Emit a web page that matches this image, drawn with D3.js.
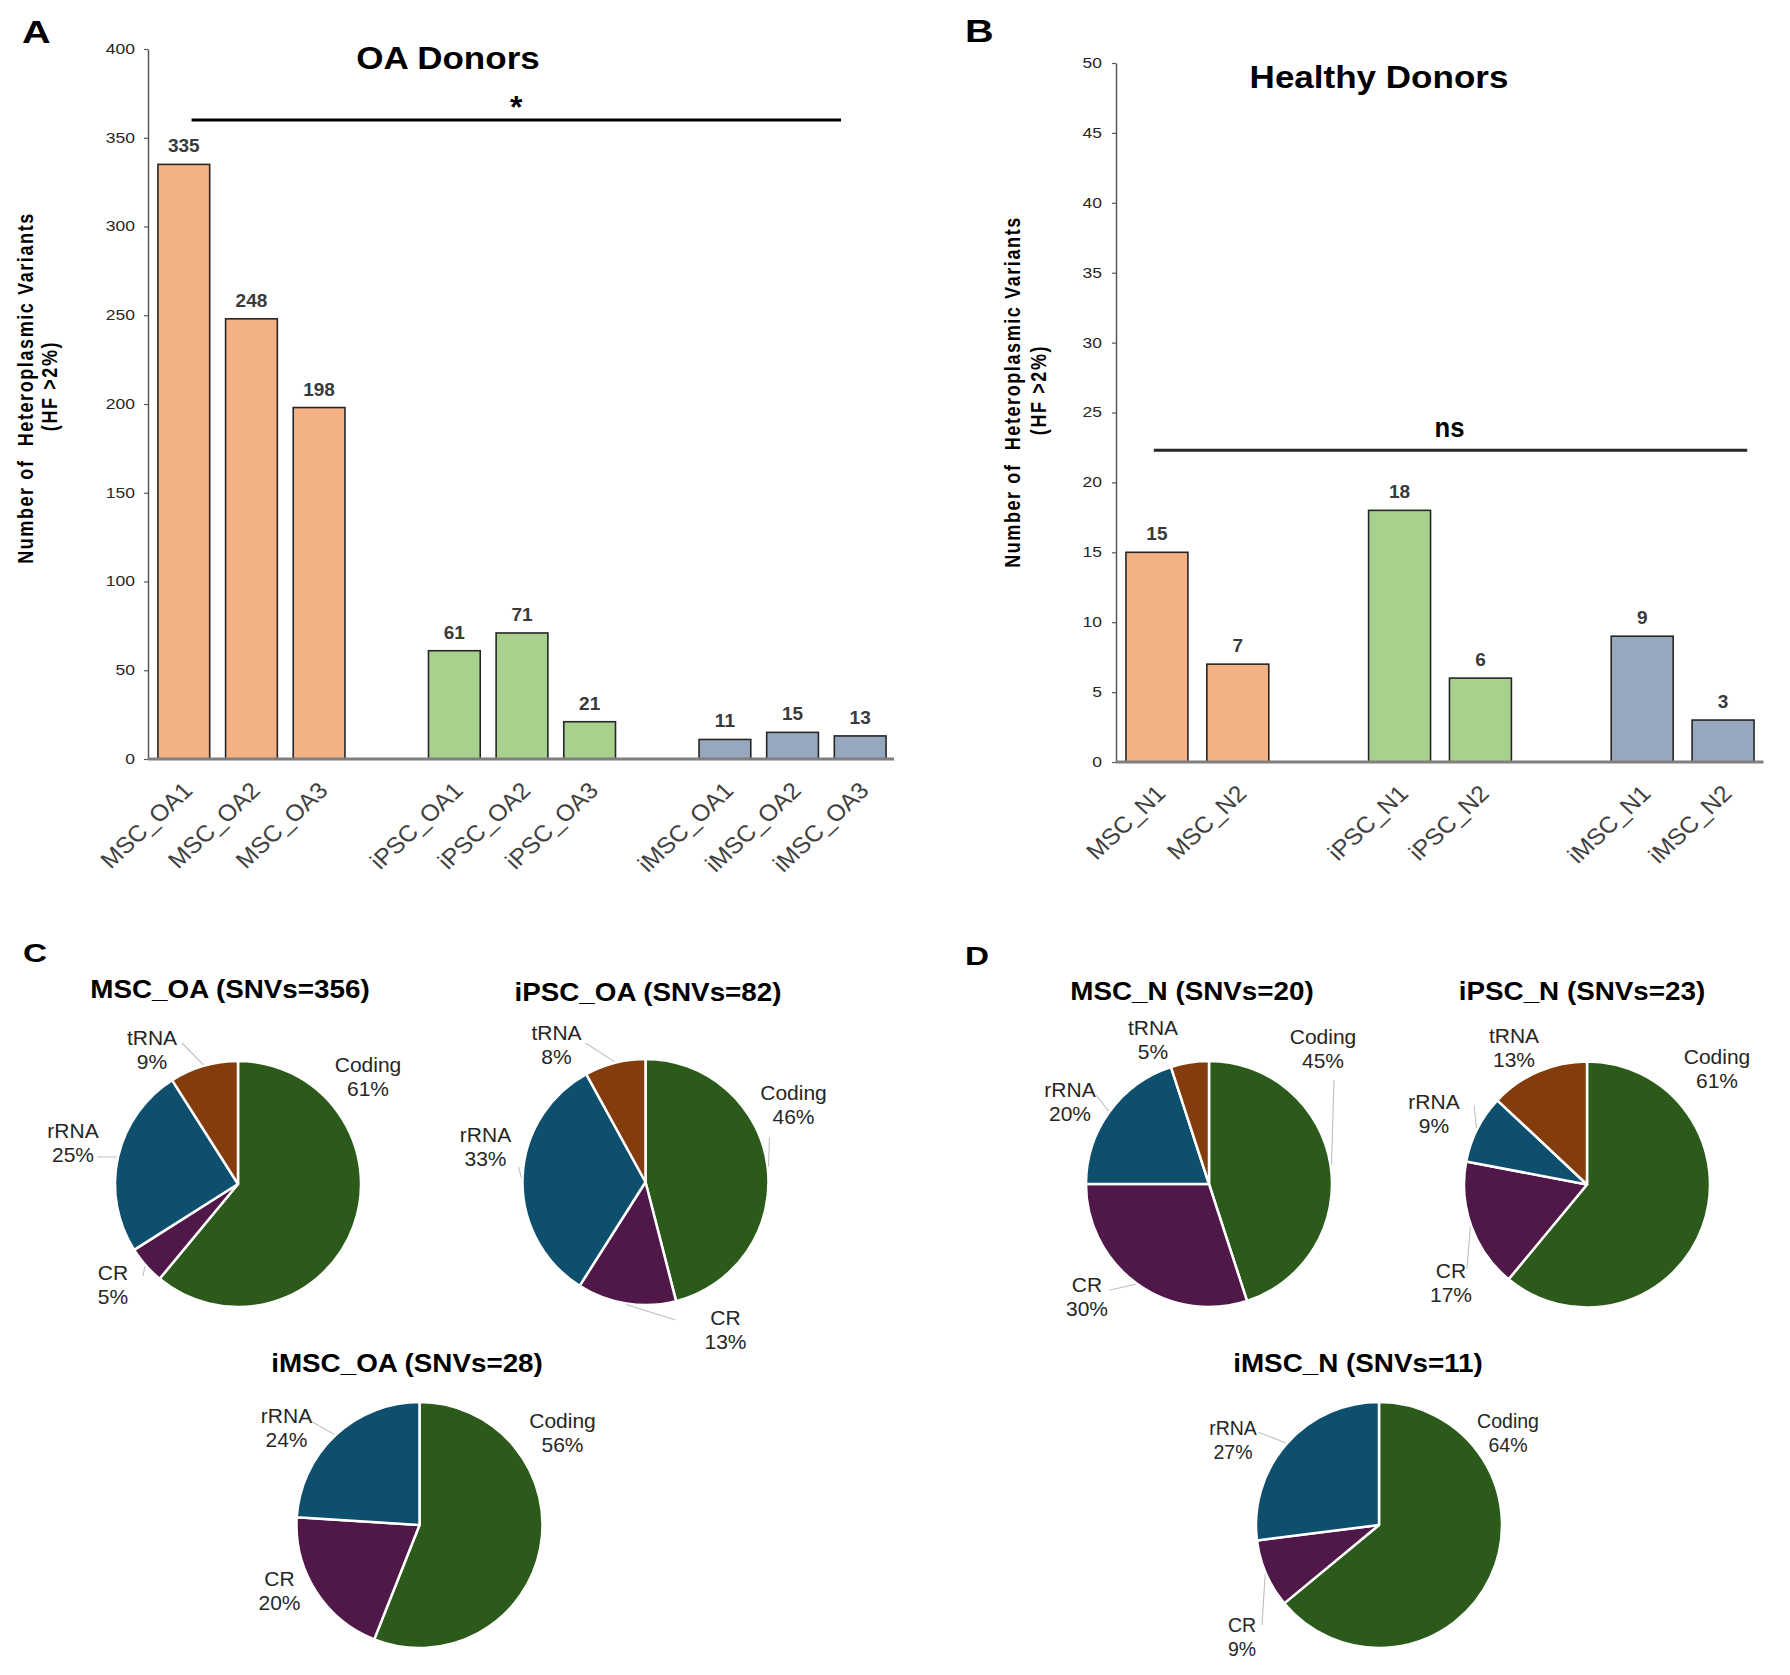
<!DOCTYPE html>
<html>
<head>
<meta charset="utf-8">
<script src="https://cdn.jsdelivr.net/npm/d3@7"></script>
<style>
  html, body { margin: 0; padding: 0; background: #fff; }
  svg { display: block; }
  text { font-family: "Liberation Sans", Arial, Helvetica, sans-serif; }
</style>
</head>
<body>
<svg id="fig" width="1790" height="1675"></svg>
<script>
// ---------------- DATA ----------------
// Panel A: OA donors
const catsA   = ["MSC_OA1","MSC_OA2","MSC_OA3","iPSC_OA1","iPSC_OA2","iPSC_OA3","iMSC_OA1","iMSC_OA2","iMSC_OA3"];
const valsA   = [335, 248, 198, 61, 71, 21, 11, 15, 13];
const groupsA = [0,0,0,1,1,1,2,2,2];
const yTicksA = [0,50,100,150,200,250,300,350,400];
const titleA  = "OA Donors";
const sigA    = { label: "*", level: 360 };

// Panel B: Healthy donors
const catsB   = ["MSC_N1","MSC_N2","iPSC_N1","iPSC_N2","iMSC_N1","iMSC_N2"];
const valsB   = [15, 7, 18, 6, 9, 3];
const groupsB = [0,0,1,1,2,2];
const yTicksB = [0,5,10,15,20,25,30,35,40,45,50];
const titleB  = "Healthy Donors";
const sigB    = { label: "ns", level: 22.3 };

const yTitle1 = "Number of  Heteroplasmic Variants";
const yTitle2 = "(HF >2%)";

// Pies (percent of SNVs by region)
const pieRegions = ["Coding","CR","rRNA","tRNA"];
const pieTitles  = ["MSC_OA (SNVs=356)","iPSC_OA (SNVs=82)","iMSC_OA (SNVs=28)",
                    "MSC_N (SNVs=20)","iPSC_N (SNVs=23)","iMSC_N (SNVs=11)"];
const pieMSC_OA  = [61, 5, 25, 9];
const pieIPSC_OA = [46, 13, 33, 8];
const pieIMSC_OA = [56, 20, 24, 0];
const pieMSC_N   = [45, 30, 20, 5];
const pieIPSC_N  = [61, 17, 9, 13];
const pieIMSC_N  = [64, 9, 27, 0];
const pieValues  = [pieMSC_OA, pieIPSC_OA, pieIMSC_OA, pieMSC_N, pieIPSC_N, pieIMSC_N];

// ---------------- STYLE / LAYOUT ----------------
const FONT = '"Liberation Sans", Arial, Helvetica, sans-serif';
const barColors = ["#F4B183", "#A9D18E", "#97A7BE"];
const pieColors = { Coding: "#2B5A1B", CR: "#4F1848", rRNA: "#0E4F6D", tRNA: "#843C0C" };

const layoutA = { x0: 150, x1: 894, yTop: 49, yBot: 759, axisX: 148, pad: 0.235,
                  title: [448, 69], ttl1: 33, ttl2: 57, ttlY: 388, tickRight: 135,
                  sigFrom: 0.65, sigTo: 0.13 };
const layoutB = { x0: 1116.5, x1: 1763.5, yTop: 63, yBot: 762, axisX: 1116, pad: 0.234,
                  title: [1379, 88], ttl1: 1020, ttl2: 1046, ttlY: 392, tickRight: 1102,
                  sigFrom: 0.45, sigTo: 0.89 };

// pie centres, title positions, label placements (offsets from pie centre)
const R = 123;
const pieLayout = [
  { c: [238, 1184],    t: [230, 998],   fs: 21,
    lab: [ {d:[130,-112]}, {d:[-125,96], l:[-95,92]}, {d:[-165,-46], l:[-141,-27]}, {d:[-86,-139], l:[-56,-141]} ] },
  { c: [645.5, 1182],  t: [648, 1001],  fs: 21,
    lab: [ {d:[148,-82], l:[124,-44]}, {d:[80,143], l:[30,138]}, {d:[-160,-40], l:[-127,-15]}, {d:[-89,-142], l:[-60,-139]} ] },
  { c: [419.5, 1525],  t: [407, 1372],  fs: 21,
    lab: [ {d:[143,-97]}, {d:[-140,61]}, {d:[-133,-102], l:[-107,-103]}, null ] },
  { c: [1209, 1184],   t: [1192, 1000], fs: 21,
    lab: [ {d:[114,-140], l:[125,-104]}, {d:[-122,108], l:[-99,106]}, {d:[-139,-87], l:[-113,-89]}, {d:[-56,-149]} ] },
  { c: [1587, 1184.5], t: [1582, 1000], fs: 21,
    lab: [ {d:[130,-121]}, {d:[-136,93], l:[-120,84]}, {d:[-153,-76], l:[-113,-79]}, {d:[-73,-142]} ] },
  { c: [1379, 1525],   t: [1358, 1372], fs: 19.5,
    lab: [ {d:[129,-97]}, {d:[-137,107], l:[-117,100]}, {d:[-146,-90], l:[-121,-93]}, null ] }
];

const panelLetters = [ {s:"A", x:22, y:43, fs:31}, {s:"B", x:965, y:42, fs:31},
                       {s:"C", x:23, y:962, fs:26}, {s:"D", x:965, y:965, fs:26} ];

// ---------------- DRAW ----------------
const svg = d3.select("#fig");

function txt(g, x, y, s, o = {}) {
  let tr = `translate(${x},${y})`;
  if (o.sx && o.sx !== 1) tr += ` scale(${o.sx},1)`;
  if (o.rot) tr += ` rotate(${o.rot})`;
  return g.append("text")
    .attr("transform", tr)
    .attr("text-anchor", o.anchor || "middle")
    .attr("font-size", o.fs || 16)
    .attr("font-weight", o.bold ? "bold" : "normal")
    .attr("fill", o.fill || "#000")
    .attr("letter-spacing", o.ls || null)
    .style("white-space", "pre")
    .text(s);
}

function barPanel(cats, vals, groups, yTicks, yMax, title, sig, L) {
  const g = svg.append("g");
  // slot domain with a spacer between groups
  const slots = [];
  cats.forEach((c, i) => {
    if (i > 0 && groups[i] !== groups[i - 1]) slots.push("__gap" + i);
    slots.push(c);
  });
  const x = d3.scaleBand().domain(slots).range([L.x0, L.x1]).paddingInner(L.pad).paddingOuter(L.pad / 2);
  const y = d3.scaleLinear().domain([0, yMax]).range([L.yBot, L.yTop]);

  // bars
  g.selectAll("rect.bar").data(cats).join("rect")
    .attr("class", "bar")
    .attr("x", d => x(d))
    .attr("width", x.bandwidth())
    .attr("y", (d, i) => y(vals[i]))
    .attr("height", (d, i) => y(0) - y(vals[i]))
    .attr("fill", (d, i) => barColors[groups[i]])
    .attr("stroke", "#262626")
    .attr("stroke-width", 1.6);

  // value labels
  g.selectAll("text.val").data(cats).join("text")
    .attr("class", "val")
    .attr("x", d => x(d) + x.bandwidth() / 2)
    .attr("y", (d, i) => y(vals[i]) - 12)
    .attr("text-anchor", "middle")
    .attr("font-size", 19)
    .attr("font-weight", "bold")
    .attr("fill", "#3A3A3A")
    .text((d, i) => vals[i]);

  // y axis
  const sxTick = 1.25;
  const ya = g.append("g").attr("transform", `translate(${L.axisX},0)`)
    .call(d3.axisLeft(y).tickValues(yTicks).tickSize(4).tickSizeOuter(0));
  ya.select(".domain").attr("stroke", "#595959").attr("stroke-width", 1.5);
  ya.selectAll(".tick line").attr("stroke", "#595959").attr("stroke-width", 1.2);
  ya.selectAll(".tick text")
    .attr("font-family", FONT).attr("font-size", 14).attr("fill", "#262626")
    .attr("x", -(L.axisX - L.tickRight) / sxTick)
    .attr("transform", `scale(${sxTick},1)`);

  // x axis
  const xa = g.append("g").attr("transform", `translate(0,${y(0)})`)
    .call(d3.axisBottom(x).tickValues(cats).tickSize(0).tickSizeOuter(0));
  xa.select(".domain").attr("stroke", "#7F7F7F").attr("stroke-width", 3)
    .attr("d", `M${L.axisX},0H${L.x1}`);
  xa.selectAll(".tick text")
    .attr("font-family", FONT).attr("font-size", 23).attr("fill", "#404040")
    .attr("x", 0).attr("y", 0).attr("dy", 0)
    .attr("text-anchor", "end")
    .attr("transform", "translate(10,33) scale(1.07,1) rotate(-45)");

  // title
  txt(g, L.title[0], L.title[1], title, { fs: 31, bold: true, sx: 1.13 });

  // significance bar
  const first = cats[0], last = cats[cats.length - 1];
  const sx0 = x(first) + x.bandwidth() * L.sigFrom;
  const sx1 = x(last) + x.bandwidth() * L.sigTo;
  g.append("line").attr("x1", sx0).attr("x2", sx1)
    .attr("y1", y(sig.level)).attr("y2", y(sig.level))
    .attr("stroke", sig.label === "*" ? "#000" : "#262626").attr("stroke-width", 3);
  if (sig.label === "*") {
    txt(g, (sx0 + sx1) / 2 + 0, y(sig.level) - 2, sig.label, { fs: 32, bold: true });
  } else {
    txt(g, (sx0 + sx1) / 2 - 1, y(sig.level) - 13, sig.label, { fs: 27, bold: true, sx: 0.95 });
  }

  // y title (two rotated lines)
  txt(g, L.ttl1, L.ttlY, yTitle1, { fs: 18, bold: true, sx: 1.25, rot: -90, ls: 1.6 });
  txt(g, L.ttl2, L.ttlY - 2, yTitle2, { fs: 18, bold: true, sx: 1.25, rot: -90, ls: 1.6 });
}

barPanel(catsA, valsA, groupsA, yTicksA, 400, titleA, sigA, layoutA);
barPanel(catsB, valsB, groupsB, yTicksB, 50, titleB, sigB, layoutB);

// pies
const pieGen = d3.pie().sort(null).value(d => d);
const arcGen = d3.arc().innerRadius(0).outerRadius(R);

pieValues.forEach((vals, k) => {
  const P = pieLayout[k];
  const g = svg.append("g");
  txt(g, P.t[0], P.t[1], pieTitles[k], { fs: 26, bold: true, sx: 1.07 });
  const pg = g.append("g").attr("transform", `translate(${P.c[0]},${P.c[1]})`);
  const arcs = pieGen(vals);
  pg.selectAll("path").data(arcs.filter(a => a.value > 0)).join("path")
    .attr("d", arcGen)
    .attr("fill", (a) => pieColors[pieRegions[a.index]])
    .attr("stroke", "#fff").attr("stroke-width", 2.5).attr("stroke-linejoin", "round");

  arcs.forEach((a, i) => {
    const lab = P.lab[i];
    if (!lab || a.value === 0) return;
    if (lab.l) {
      const m = (a.startAngle + a.endAngle) / 2;
      const px = (R + 1) * Math.sin(m), py = -(R + 1) * Math.cos(m);
      pg.append("line")
        .attr("x1", lab.l[0]).attr("y1", lab.l[1]).attr("x2", px).attr("y2", py)
        .attr("stroke", "#BFBFBF").attr("stroke-width", 1.1);
    }
    txt(pg, lab.d[0], lab.d[1], pieRegions[i], { fs: P.fs, fill: "#262626" });
    txt(pg, lab.d[0], lab.d[1] + 24, a.value + "%", { fs: P.fs, fill: "#262626" });
  });
});

// panel letters
panelLetters.forEach(p => {
  txt(svg, p.x, p.y, p.s, { fs: p.fs, bold: true, anchor: "start", sx: 1.28 });
});
</script>
</body>
</html>
